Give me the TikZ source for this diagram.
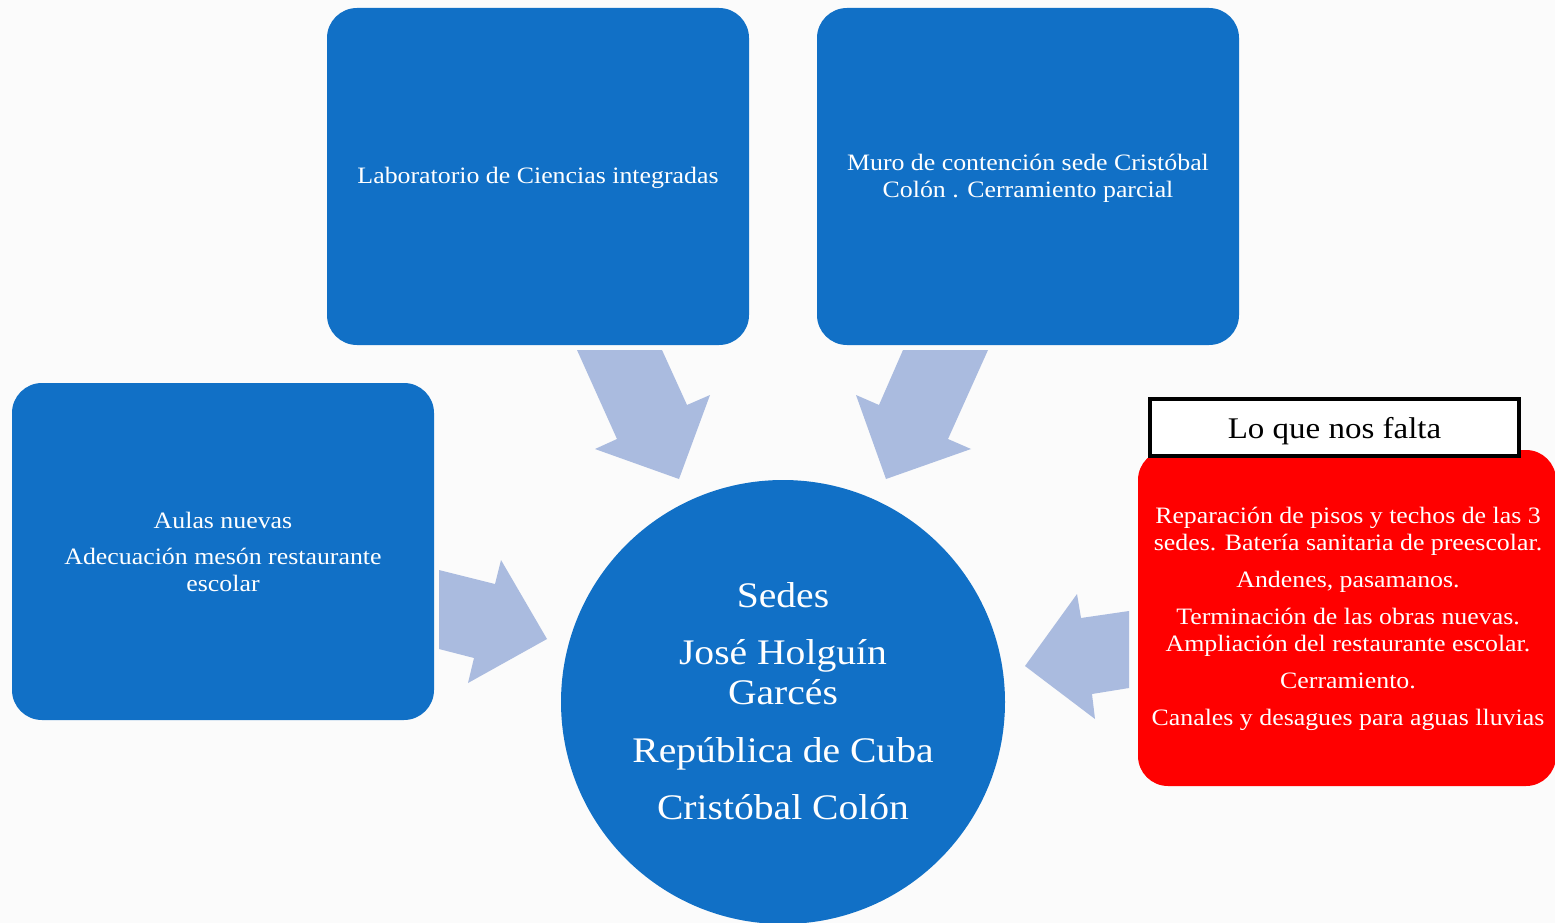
\documentclass[tikz,border=0pt]{standalone}
\usepackage{fontspec}
\setmainfont{Liberation Serif}[FakeStretch=1.1]
\definecolor{boxblue}{RGB}{17,112,198}
\definecolor{arrowblue}{RGB}{170,187,223}
\definecolor{bg}{RGB}{251,251,251}
\begin{document}
\begin{tikzpicture}[x=1pt,y=-1pt,
  bluebox/.style={fill=boxblue, rounded corners=30pt, draw=none},
  txt/.style={text=white, align=center, font=\fontsize{23.5}{27}\selectfont, inner sep=0pt},
  blockarrow/.style={fill=arrowblue, draw=none}]
\fill[bg] (0,0) rectangle (1555,923);
\useasboundingbox (0,0) rectangle (1555,923);
% boxes
\fill[bluebox] (327,8) rectangle (749,345);
\fill[bluebox] (817,8) rectangle (1239,345);
\fill[bluebox] (12,383) rectangle (434,720);
\fill[red, rounded corners=30pt] (1138,450) rectangle (1556,786);
% circle
\fill[boxblue] (783,702) circle (222);
% arrows
\fill[blockarrow] (577,350) -- (662,350) -- (687,405) -- (710,395) -- (679,479) -- (595,449) -- (617,439) -- cycle;
\fill[blockarrow] (988,350) -- (903,350) -- (879,405) -- (856,395) -- (886,479) -- (971,449) -- (948,439) -- cycle;
\fill[blockarrow] (439,570) -- (495,584) -- (501,560) -- (547,639) -- (468,683) -- (474,658) -- (439,649) -- cycle;
\fill[blockarrow] (1129,611) -- (1081,618) -- (1077,594) -- (1025,666) -- (1095,719) -- (1092,694) -- (1129,688) -- cycle;
% header box
\node[draw=black, line width=4pt, fill=white, minimum width=369pt, minimum height=57pt, inner sep=0pt] (hdr) at (1334.5,427.5) {};
\node[font=\fontsize{30}{34}\selectfont, inner sep=0pt] (hdrtxt) at ([yshift=-4pt]hdr.center) {Lo que nos falta};
% texts
\node[txt] (lab) at (538,178) {Laboratorio de Ciencias integradas};
\node[txt] (muro) at (1028,178) {Muro de contención sede Cristóbal\\Colón . Cerramiento parcial};
\node[txt] (aulas) at (223,552) {Aulas nuevas\\[9pt]Adecuación mesón restaurante\\escolar};
\node[txt, font=\fontsize{36}{40}\selectfont] (sedes) at (783,701) {Sedes\\[17pt]José Holguín\\Garcés\\[18pt]República de Cuba\\[17pt]Cristóbal Colón};
\node[txt] (falta) at (1348,619) {Reparación de pisos y techos de las 3\\sedes. Batería sanitaria de preescolar.\\[10pt]Andenes, pasamanos.\\[10pt]Terminación de las obras nuevas.\\Ampliación del restaurante escolar.\\[10pt]Cerramiento.\\[10pt]Canales y desagues para aguas lluvias};
\end{tikzpicture}
\end{document}
